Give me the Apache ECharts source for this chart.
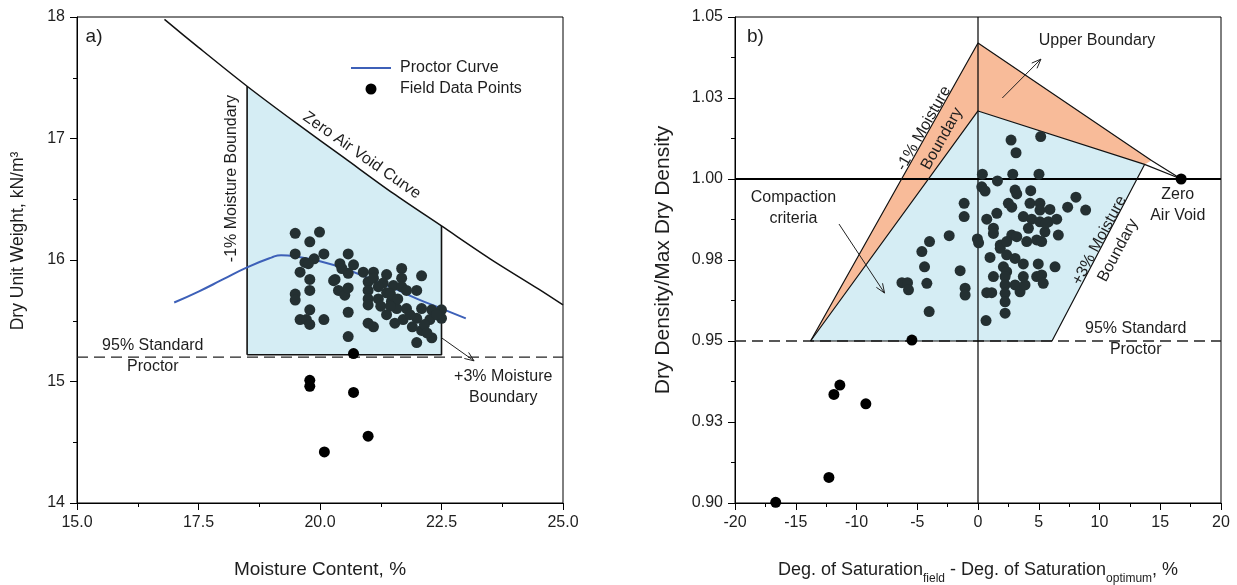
<!DOCTYPE html>
<html>
<head>
<meta charset="utf-8">
<script src="https://cdn.jsdelivr.net/npm/echarts@6/dist/echarts.min.js"></script>
<style>
html,body{margin:0;padding:0;background:#fff;}
#c{width:1237px;height:585px;}
</style>
</head>
<body>
<div id="c"></div>
<script>
// ================= Panel a) data =================
const xTickLabelsA = ['15.0', '17.5', '20.0', '22.5', '25.0'];
const proctorW = [17.0, 17.5, 18.0, 18.5, 19.0, 19.2, 19.5, 20.0, 20.5, 21.0, 21.5, 22.0, 22.5, 23.0];
const proctorG = [15.65, 15.74, 15.84, 15.94, 16.02, 16.04, 16.03, 15.99, 15.93, 15.85, 15.77, 15.68, 15.60, 15.52];
const zavW = [16.8, 17.5, 18.5, 19.5, 20.5, 21.5, 22.5, 23.5, 24.5, 25.0];
const zavG = [17.98, 17.75, 17.43, 17.13, 16.84, 16.55, 16.28, 16.01, 15.76, 15.63];
const regionAW = [18.5, 18.5, 19.5, 20.5, 21.5, 22.5, 22.5];
const regionAG = [15.22, 17.43, 17.13, 16.84, 16.55, 16.28, 15.22];
const standardProctorA = 15.2;
const fieldInA = [
  [19.49,16.22],[19.99,16.23],[19.79,16.15],[19.49,16.05],[20.08,16.05],[20.58,16.05],[19.69,15.98],
  [19.88,16.01],[19.76,15.97],[19.59,15.90],[19.79,15.84],[19.79,15.75],[19.49,15.72],[19.49,15.67],
  [19.79,15.59],[19.59,15.51],[19.72,15.51],[19.79,15.47],[20.08,15.51],[20.58,15.57],[20.58,15.37],[20.41,15.97],
  [20.69,15.96],[20.58,15.89],[20.31,15.84],[20.38,15.75],[20.51,15.71],[20.58,15.77],[20.89,15.90],
  [21.10,15.90],[21.37,15.88],[21.68,15.93],[22.09,15.87],[20.99,15.82],[20.99,15.75],[20.99,15.68],
  [20.99,15.63],[21.10,15.85],[21.30,15.81],[21.51,15.79],[21.68,15.85],[21.68,15.78],[21.20,15.68],
  [21.37,15.73],[21.47,15.66],[21.78,15.75],[21.99,15.75],[21.37,15.55],[21.58,15.60],[21.78,15.60],
  [21.54,15.48],[21.71,15.51],[22.09,15.60],[21.99,15.52],[22.09,15.42],[22.30,15.59],[22.26,15.51],
  [22.50,15.59],[22.50,15.52],[22.30,15.36],[21.99,15.32],[20.99,15.48],[21.10,15.45],[21.20,15.78],
  [21.45,15.72],[21.60,15.68],[21.85,15.55],[22.15,15.47],[22.20,15.40],[21.90,15.45],[22.40,15.55],
  [21.25,15.62],[21.45,15.62],[20.45,15.93],[20.28,15.83]
];
const fieldOutA = [[20.69,15.23],[19.79,15.01],[19.79,14.96],[20.69,14.91],[20.99,14.55],[20.09,14.42]];

// ================= Panel b) data =================
const yTickLabelsB = ['0.90', '0.93', '0.95', '0.98', '1.00', '1.03', '1.05'];
const upperX = [-13.78, 0, 14.28, 13.71, 0];
const upperY = [0.95, 1.042, 1.0057, 1.0045, 1.021];
const critX = [-13.78, 0, 13.71, 6.09];
const critY = [0.95, 1.021, 1.0045, 0.95];
const outerLineX = [-13.78, 0, 14.28, 16.72];
const outerLineY = [0.95, 1.042, 1.0057, 1.0];
const innerLineX = [-13.78, 0, 13.71, 16.72];
const innerLineY = [0.95, 1.021, 1.0045, 1.0];
const plusLineX = [13.71, 6.09, -13.78];
const plusLineY = [1.0045, 0.95, 0.95];
const standardProctorB = 0.95;
const fieldInB = [
  [2.72,1.0120],[5.16,1.0131],[3.13,1.0081],[0.36,1.0015],[2.86,1.0015],[5.02,1.0015],[1.60,0.9994],
  [0.31,0.9976],[0.58,0.9963],[3.05,0.9966],[3.19,0.9954],[4.34,0.9964],[8.06,0.9944],[8.86,0.9904],
  [-1.14,0.9925],[-1.14,0.9884],[2.50,0.9925],[2.78,0.9913],[4.28,0.9925],[5.10,0.9925],[5.10,0.9904],
  [5.92,0.9906],[7.38,0.9913],[1.55,0.9894],[0.72,0.9876],[3.73,0.9884],[4.42,0.9876],[5.10,0.9868],
  [5.79,0.9868],[6.48,0.9876],[1.27,0.9848],[1.27,0.9832],[4.15,0.9848],[5.51,0.9837],[6.61,0.9827],
  [-2.37,0.9825],[-0.05,0.9815],[0.05,0.9803],[1.83,0.9796],[1.83,0.9786],[-3.99,0.9807],[-4.62,0.9776],
  [2.36,0.9766],[3.05,0.9755],[0.99,0.9758],[-4.40,0.9729],[-1.47,0.9717],[3.73,0.9738],[4.96,0.9738],
  [6.34,0.9729],[2.09,0.9729],[2.36,0.9714],[2.23,0.9699],[1.27,0.9699],[3.73,0.9699],[4.83,0.9699],
  [5.24,0.9704],[5.37,0.9678],[-6.26,0.9680],[-5.80,0.9680],[-5.72,0.9658],[-4.21,0.9678],[-1.06,0.9663],
  [-1.06,0.9642],[0.72,0.9649],[1.13,0.9649],[2.23,0.9673],[2.23,0.9647],[2.23,0.9621],[2.23,0.9586],
  [3.05,0.9673],[3.46,0.9652],[3.87,0.9673],[-4.02,0.9591],[0.66,0.9563],[2.78,0.9827],[3.19,0.9822],
  [4.01,0.9807],[4.83,0.9812],[5.24,0.9807],[2.36,0.9807],[5.60,0.9864]
];
const fieldOutB = [[-5.44,0.9503],[-11.86,0.9335],[-11.37,0.9364],[-9.23,0.9306],[-12.27,0.9079],[-16.65,0.9002],[16.72,1.0]];

// ================= annotations (positions in data units) =================
const arrowsA = [[22.5, 15.36, 23.17, 15.17]];
const arrowsB = [[2.0, 1.025, 5.18, 1.037], [-11.44, 0.9861, -7.69, 0.9648]];
const notesA = [
  {x: 15.35, y: 17.84, text: 'a)', size: 19},
  {x: 20.86, y: 16.86, text: 'Zero Air Void Curve', rot: -35},
  {x: 18.19, y: 16.67, text: '-1% Moisture Boundary', rot: 90},
  {x: 16.56, y: 15.206, text: '95% Standard\nProctor'},
  {x: 23.77, y: 14.95, text: '+3% Moisture\nBoundary'}
];
const notesB = [
  {x: -18.32, y: 1.0438, text: 'b)', size: 19},
  {x: 9.79, y: 1.0426, text: 'Upper Boundary'},
  {x: -3.71, y: 1.014, text: '-1% Moisture\nBoundary', rot: 60.6},
  {x: -15.19, y: 0.9911, text: 'Compaction\ncriteria'},
  {x: 10.76, y: 0.9795, text: '+3% Moisture\nBoundary', rot: 62},
  {x: 16.44, y: 0.9918, text: 'Zero\nAir Void'},
  {x: 12.98, y: 0.9505, text: '95% Standard\nProctor'}
];

// ================= helpers =================
const FONT = '"Liberation Sans", Arial, Helvetica, sans-serif';
const TXT = '#1e1e1e';
const zip = (a, b) => a.map((v, i) => [v, b[i]]);

function polySeries(xi, pts, fill, z) {
  return {
    type: 'custom', xAxisIndex: xi, yAxisIndex: xi, z: z, silent: true, clip: false,
    data: pts, encode: {x: 0, y: 1},
    renderItem: (params, api) => {
      if (params.dataIndex !== 0) return null;
      return {type: 'polygon', shape: {points: pts.map(p => api.coord(p))}, style: {fill: fill}};
    }
  };
}
function lineSeries(xi, pts, style, z, extra) {
  return Object.assign({
    type: 'line', xAxisIndex: xi, yAxisIndex: xi, data: pts, symbol: 'none', showSymbol: false,
    lineStyle: style, z: z, silent: true, clip: false
  }, extra || {});
}
function arrowSeries(xi, arrows) {
  return {
    type: 'custom', xAxisIndex: xi, yAxisIndex: xi, z: 6, silent: true, clip: false,
    data: arrows, encode: {x: [0, 2], y: [1, 3]},
    renderItem: (params, api) => {
      const p0 = api.coord([api.value(0), api.value(1)]);
      const p1 = api.coord([api.value(2), api.value(3)]);
      const ang = Math.atan2(p1[1] - p0[1], p1[0] - p0[0]);
      const L = 10, A = 0.38;
      const h1 = [p1[0] - L * Math.cos(ang - A), p1[1] - L * Math.sin(ang - A)];
      const h2 = [p1[0] - L * Math.cos(ang + A), p1[1] - L * Math.sin(ang + A)];
      return {type: 'group', children: [
        {type: 'line', shape: {x1: p0[0], y1: p0[1], x2: p1[0], y2: p1[1]}, style: {stroke: '#222', lineWidth: 1}},
        {type: 'polyline', shape: {points: [h1, p1, h2]}, style: {stroke: '#222', lineWidth: 1, fill: null}}
      ]};
    }
  };
}
function textSeries(xi, notes) {
  return {
    type: 'custom', xAxisIndex: xi, yAxisIndex: xi, z: 7, silent: true, clip: false,
    data: notes.map(n => [n.x, n.y]), encode: {x: 0, y: 1},
    renderItem: (params, api) => {
      const n = notes[params.dataIndex];
      const p = api.coord([api.value(0), api.value(1)]);
      return {
        type: 'text', x: p[0], y: p[1], rotation: (n.rot || 0) * Math.PI / 180,
        style: {text: n.text, fill: TXT, fontSize: n.size || 16, fontFamily: FONT,
                align: 'center', verticalAlign: 'middle', lineHeight: 21}
      };
    }
  };
}
function baseAxis() {
  return {
    type: 'value',
    axisLine: {show: true, onZero: false, lineStyle: {color: '#000', width: 1}},
    axisTick: {show: true, inside: false, length: 7, lineStyle: {color: '#000', width: 1}},
    minorTick: {show: true, splitNumber: 2, length: 4, lineStyle: {color: '#000', width: 1}},
    splitLine: {show: false},
    axisLabel: {color: TXT, fontSize: 16, fontFamily: FONT, margin: 12},
    nameLocation: 'middle',
    nameTextStyle: {color: TXT, fontSize: 19, fontFamily: FONT}
  };
}

const chart = echarts.init(document.getElementById('c'), null, {renderer: 'canvas'});

const xA = Object.assign(baseAxis(), {
  gridIndex: 0, min: 15, max: 25, interval: 2.5, name: 'Moisture Content, %', nameGap: 57,
});
xA.axisLabel.formatter = v => xTickLabelsA[Math.round((v - 15) / 2.5)];
const yA = Object.assign(baseAxis(), {
  gridIndex: 0, min: 14, max: 18, interval: 1, name: 'Dry Unit Weight, kN/m\u00B3', nameGap: 50
});
yA.nameTextStyle = {color: TXT, fontSize: 17.5, fontFamily: FONT, padding: [0, 0, 0, 38]};

const xB = Object.assign(baseAxis(), {
  gridIndex: 1, min: -20, max: 20, interval: 5, nameGap: 58,
  name: '{b|Deg. of Saturation}{s|field}{b| - Deg. of Saturation}{s|optimum}{b|, %}'
});
xB.nameTextStyle = {color: TXT, fontFamily: FONT, rich: {
  b: {fontSize: 18, fontFamily: FONT, color: TXT, lineHeight: 22, verticalAlign: 'top'},
  s: {fontSize: 12, fontFamily: FONT, color: TXT, lineHeight: 12, verticalAlign: 'top', padding: [12, 0, 0, 0]}
}};
const yB = Object.assign(baseAxis(), {
  gridIndex: 1, min: 0.9, max: 1.05, interval: 0.025, name: 'Dry Density/Max Dry Density', nameGap: 61
});
yB.axisLabel.formatter = v => yTickLabelsB[Math.round((v - 0.9) / 0.025)];
yB.nameTextStyle = {color: TXT, fontSize: 21, fontFamily: FONT};

const DOT_IN = '#243032';
const option = {
  animation: false,
  backgroundColor: '#fff',
  grid: [
    {left: 77, top: 17, width: 486, height: 486, show: true, borderColor: '#000', borderWidth: 1,
     backgroundColor: 'transparent', containLabel: false, outerBoundsMode: 'none'},
    {left: 735, top: 17, width: 486, height: 486, show: true, borderColor: '#000', borderWidth: 1,
     backgroundColor: 'transparent', containLabel: false, outerBoundsMode: 'none'}
  ],
  xAxis: [xA, xB],
  yAxis: [yA, yB],
  legend: {
    left: 345, top: 55, orient: 'vertical', itemWidth: 40, itemHeight: 11, itemGap: 5,
    selectedMode: false,
    textStyle: {color: TXT, fontSize: 16, fontFamily: FONT, lineHeight: 14, padding: [0, 0, 0, 4]},
    data: [
      {name: 'Proctor Curve', itemStyle: {opacity: 0}},
      {name: 'Field Data Points', icon: 'circle', itemStyle: {color: '#000', opacity: 1}}
    ]
  },
  series: [
    // ---------- panel a ----------
    polySeries(0, zip(regionAW, regionAG), '#d5edf4', 1),
    lineSeries(0, [[15, standardProctorA], [25, standardProctorA]], {color: '#222', width: 1.3, type: [11, 6]}, 2),
    lineSeries(0, [[regionAW[0], regionAG[0]], [regionAW[1], regionAG[1]]], {color: '#111', width: 1.6}, 3),
    lineSeries(0, [[regionAW[0], regionAG[0]], [regionAW[regionAW.length - 1], regionAG[regionAG.length - 1]], [regionAW[regionAW.length - 2], regionAG[regionAG.length - 2]]], {color: '#111', width: 1.6}, 3),
    lineSeries(0, zip(zavW, zavG), {color: '#111', width: 1.5}, 3, {smooth: 0.3}),
    lineSeries(0, zip(proctorW, proctorG), {color: '#3d60b8', width: 2}, 4, {smooth: true, name: 'Proctor Curve', itemStyle: {color: '#3d60b8'}}),
    {type: 'scatter', name: 'Field Data Points', xAxisIndex: 0, yAxisIndex: 0, data: fieldInA, symbolSize: 11,
     itemStyle: {color: DOT_IN, opacity: 1}, z: 5, clip: false, silent: true},
    {type: 'scatter', name: 'Field Data Points', xAxisIndex: 0, yAxisIndex: 0, data: fieldOutA, symbolSize: 11,
     itemStyle: {color: '#000', opacity: 1}, z: 5, clip: false, silent: true},
    arrowSeries(0, arrowsA),
    textSeries(0, notesA),

    // ---------- panel b ----------
    polySeries(1, zip(upperX, upperY), '#f8bb99', 1),
    polySeries(1, zip(critX, critY), '#d5edf4', 1),
    lineSeries(1, [[-20, standardProctorB], [20, standardProctorB]], {color: '#222', width: 1.3, type: [11, 6]}, 2),
    lineSeries(1, [[-20, 1.0], [20, 1.0]], {color: '#000', width: 2}, 3),
    lineSeries(1, [[0, 0.9], [0, 1.05]], {color: '#000', width: 1.2}, 3),
    lineSeries(1, zip(outerLineX, outerLineY), {color: '#111', width: 1.2}, 3),
    lineSeries(1, zip(innerLineX, innerLineY), {color: '#111', width: 1.2}, 3),
    lineSeries(1, zip(plusLineX, plusLineY), {color: '#111', width: 1.2}, 3),
    {type: 'scatter', name: 'Field (b) inside', xAxisIndex: 1, yAxisIndex: 1, data: fieldInB, symbolSize: 11,
     itemStyle: {color: DOT_IN, opacity: 1}, z: 5, clip: false, silent: true},
    {type: 'scatter', name: 'Field (b) outside', xAxisIndex: 1, yAxisIndex: 1, data: fieldOutB, symbolSize: 11,
     itemStyle: {color: '#000', opacity: 1}, z: 5, clip: false, silent: true},
    arrowSeries(1, arrowsB),
    textSeries(1, notesB)
  ]
};
chart.setOption(option);
</script>
</body>
</html>
